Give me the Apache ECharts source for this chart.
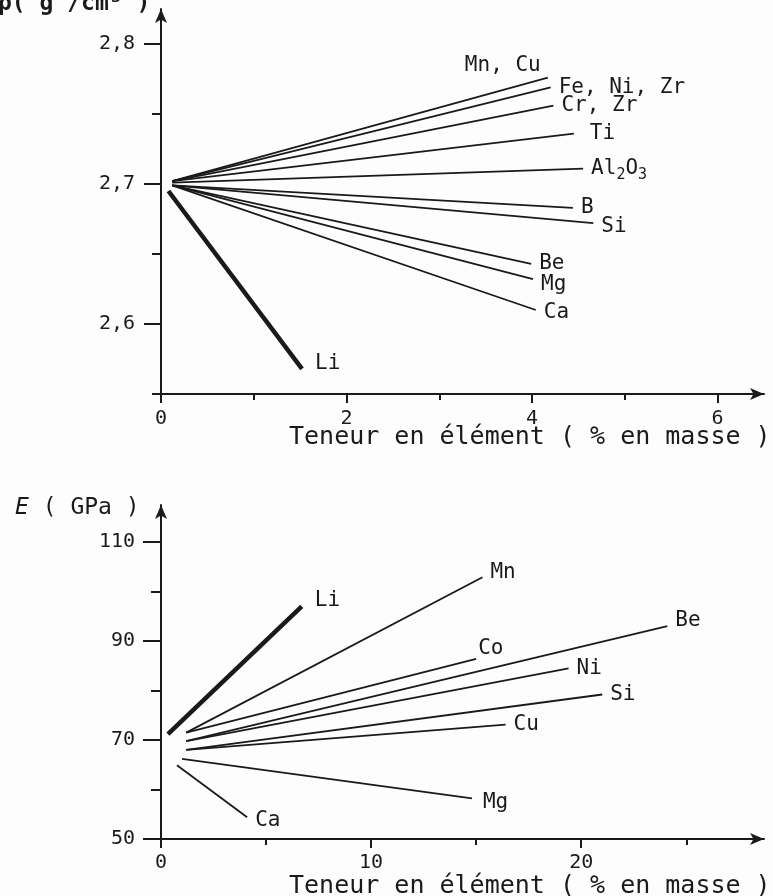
<!DOCTYPE html>
<html>
<head>
<meta charset="utf-8">
<script src="https://cdn.jsdelivr.net/npm/echarts@6/dist/echarts.min.js"></script>
<style>
html, body { margin: 0; padding: 0; background: #fdfdfd; }
#chart { width: 773px; height: 896px; }
</style>
</head>
<body>
<div id="chart"></div>
<script>
// masse volumique en fonction de la teneur en element
var densityNames = ['Mn, Cu', 'Fe, Ni, Zr', 'Cr, Zr', 'Ti', 'Al₂O₃', 'B', 'Si', 'Be', 'Mg', 'Ca', 'Li'];
var densityX0 = [0.12, 0.12, 0.12, 0.12, 0.12, 0.12, 0.12, 0.12, 0.12, 0.12, 0.08];
var densityY0 = [2.702, 2.702, 2.702, 2.702, 2.701, 2.699, 2.699, 2.699, 2.699, 2.699, 2.695];
var densityX1 = [4.17, 4.20, 4.23, 4.45, 4.55, 4.44, 4.66, 3.99, 4.01, 4.04, 1.52];
var densityY1 = [2.776, 2.769, 2.756, 2.736, 2.711, 2.683, 2.672, 2.643, 2.632, 2.610, 2.568];
var densityLabels = [2.6, 2.7, 2.8];
var densityMinor = [2.55, 2.65, 2.75];
var densityXLabels = [0, 2, 4, 6];
var densityXMinor = [1, 3, 5];

// module d'Young en fonction de la teneur en element
var modulusNames = ['Li', 'Mn', 'Co', 'Be', 'Ni', 'Si', 'Cu', 'Mg', 'Ca'];
var modulusX0 = [0.33, 1.2, 1.2, 1.2, 1.2, 1.2, 1.2, 1.0, 0.76];
var modulusY0 = [71.2, 71.5, 71.5, 69.8, 69.8, 68.0, 68.0, 66.2, 64.9];
var modulusX1 = [6.7, 15.3, 15.0, 24.1, 19.4, 21.0, 16.4, 14.8, 4.1];
var modulusY1 = [97.0, 102.9, 86.4, 93.0, 84.5, 79.2, 73.1, 58.2, 54.4];
var modulusLabels = [50, 70, 90, 110];
var modulusMinor = [60, 80, 100];
var modulusXLabels = [0, 10, 20];
var modulusXMinor = [5, 15, 25];

var ink = '#1a1a1a';
var font = 'DejaVu Sans Mono';

// decalages des etiquettes qui ne sont pas juste a droite du trait
var labelShift = {
  top: { 'Mn, Cu': [-91, -12], 'Ti': [8, 0], 'Li': [5, -5], 'Si': [0, 3], 'Mg': [0, 5], 'Ca': [0, 3] },
  bottom: { 'Li': [5, -6], 'Mn': [0, -5], 'Co': [-6, -10], 'Be': [0, -6], 'Mg': [3, 4], 'Ca': [0, 3] }
};
// indices chimiques
var richText = { 'Al₂O₃': 'Al{s|2}O{s|3}' };

function makeSeries(names, x0, y0, x1, y1, axis, shifts) {
  return names.map(function (name, i) {
    return {
      name: name,
      type: 'line',
      xAxisIndex: axis,
      yAxisIndex: axis * 2,
      data: [[x0[i], y0[i]], [x1[i], y1[i]]],
      showSymbol: false,
      silent: true,
      clip: false,
      lineStyle: { color: ink, width: name === 'Li' ? 4.5 : 1.8 },
      endLabel: {
        show: true,
        formatter: richText[name] || name,
        distance: 8,
        offset: shifts[name] || [0, 0],
        fontFamily: font,
        fontSize: 21,
        color: ink,
        rich: { s: { fontFamily: font, fontSize: 15, color: ink, padding: [13, 0, 0, 0] } }
      }
    };
  });
}

function comma(v) {
  return String(v).replace('.', ',');
}

var axisLine = { show: true, symbol: ['none', 'arrow'], symbolSize: [9, 14], lineStyle: { color: ink, width: 2 } };
var noLine = { show: false };
var labelStyle = { fontFamily: font, fontSize: 20, color: ink };

var option = {
  backgroundColor: '#fdfdfd',
  animation: false,
  grid: [
    { left: 161, top: 9, width: 603, height: 385 },
    { left: 161, top: 505, width: 603, height: 334 }
  ],
  xAxis: [
    {
      type: 'value', gridIndex: 0, position: 'bottom', min: 0, max: 6.5,
      axisLine: axisLine, splitLine: { show: false },
      axisTick: { customValues: densityXLabels, length: 9, lineStyle: { color: ink, width: 2 } },
      axisLabel: Object.assign({ customValues: densityXLabels, margin: 15 }, labelStyle)
    },
    {
      type: 'value', gridIndex: 1, position: 'bottom', min: 0, max: 28.7,
      axisLine: axisLine, splitLine: { show: false },
      axisTick: { customValues: modulusXLabels, length: 9, lineStyle: { color: ink, width: 2 } },
      axisLabel: Object.assign({ customValues: modulusXLabels, margin: 14 }, labelStyle)
    },
    {
      type: 'value', gridIndex: 0, position: 'bottom', min: 0, max: 6.5,
      axisLine: noLine, splitLine: { show: false }, axisLabel: { show: false },
      axisTick: { customValues: densityXMinor, length: 6, lineStyle: { color: ink, width: 2 } }
    },
    {
      type: 'value', gridIndex: 1, position: 'bottom', min: 0, max: 28.7,
      axisLine: noLine, splitLine: { show: false }, axisLabel: { show: false },
      axisTick: { customValues: modulusXMinor, length: 6, lineStyle: { color: ink, width: 2 } }
    }
  ],
  yAxis: [
    {
      type: 'value', gridIndex: 0, position: 'left', min: 2.55, max: 2.825,
      axisLine: axisLine, splitLine: { show: false },
      axisTick: { customValues: densityLabels, length: 17, lineStyle: { color: ink, width: 2 } },
      axisLabel: Object.assign({ customValues: densityLabels, margin: 26, formatter: comma }, labelStyle)
    },
    {
      type: 'value', gridIndex: 0, position: 'left', min: 2.55, max: 2.825,
      axisLine: noLine, splitLine: { show: false }, axisLabel: { show: false },
      axisTick: { customValues: densityMinor, length: 9, lineStyle: { color: ink, width: 2 } }
    },
    {
      type: 'value', gridIndex: 1, position: 'left', min: 50, max: 117.5,
      axisLine: axisLine, splitLine: { show: false },
      axisTick: { customValues: modulusLabels, length: 18, lineStyle: { color: ink, width: 2 } },
      axisLabel: Object.assign({ customValues: modulusLabels, margin: 26 }, labelStyle)
    },
    {
      type: 'value', gridIndex: 1, position: 'left', min: 50, max: 117.5,
      axisLine: noLine, splitLine: { show: false }, axisLabel: { show: false },
      axisTick: { customValues: modulusMinor, length: 10, lineStyle: { color: ink, width: 2 } }
    }
  ],
  graphic: [
    { type: 'text', left: -2, top: -7, style: { text: 'ρ( g /cm³ )', fontFamily: font, fontSize: 23, fontWeight: 'bold', fill: ink } },
    { type: 'text', left: 289, top: 425, style: { text: 'Teneur en élément ( % en masse )', fontFamily: font, fontSize: 25, fill: ink } },
    { type: 'text', left: 15, top: 497, style: {
        text: '{i|E} ( GPa )', fontFamily: font, fontSize: 23, fill: ink,
        rich: { i: { fontFamily: font, fontStyle: 'italic', fontSize: 23, fill: ink } }
    } },
    { type: 'text', left: 289, top: 874, style: { text: 'Teneur en élément ( % en masse )', fontFamily: font, fontSize: 25, fill: ink } }
  ],
  series: makeSeries(densityNames, densityX0, densityY0, densityX1, densityY1, 0, labelShift.top)
    .concat(makeSeries(modulusNames, modulusX0, modulusY0, modulusX1, modulusY1, 1, labelShift.bottom))
};

var myChart = echarts.init(document.getElementById('chart'));
myChart.setOption(option);
</script>
</body>
</html>
